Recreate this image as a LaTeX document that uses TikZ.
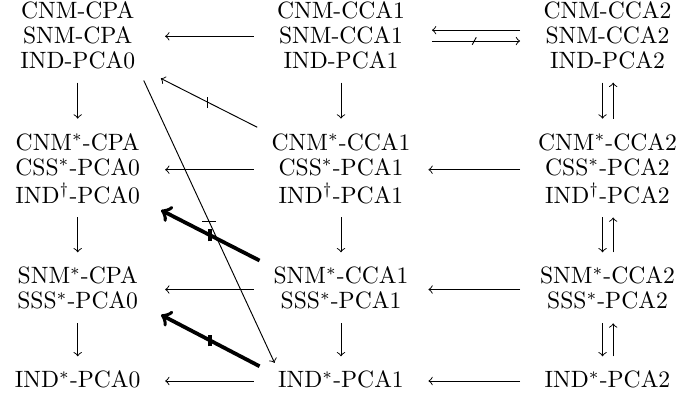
\documentclass[tikz,border=0pt]{standalone}
\newcommand\ls{\rule[-2.3pt]{0pt}{10.5pt}}
\begin{document}
\begin{tikzpicture}[x=0.4237pt,y=-0.4237pt,
  blk/.style={align=center,inner sep=0pt,minimum width=73.7pt,font=\fontsize{10}{10.6}\selectfont},
  dn/.style={->,shorten <=3.6pt,shorten >=5pt},
  upar/.style={->,shorten <=5pt,shorten >=3.6pt},
  hz/.style={->},
  thk/.style={->,line width=1.6pt},
  tick/.style={line width=0.4pt},
  thktick/.style={line width=1.6pt}]
\useasboundingbox (0,0) rectangle (681,403);
% row 1
\node[blk] (A1) at (77.7,36.3) {\ls CNM-CPA\\\ls SNM-CPA\\\ls IND-PCA0};
\node[blk] (B1) at (341,36.3) {\ls CNM-CCA1\\\ls SNM-CCA1\\\ls IND-PCA1};
\node[blk] (C1) at (607.5,36.3) {\ls CNM-CCA2\\\ls SNM-CCA2\\\ls IND-PCA2};
% row 2
\node[blk] (A2) at (77.7,169.7) {\ls CNM$^*$-CPA\\\ls CSS$^*$-PCA0\\\ls IND$^\dagger$-PCA0};
\node[blk] (B2) at (341,169.7) {\ls CNM$^*$-CCA1\\\ls CSS$^*$-PCA1\\\ls IND$^\dagger$-PCA1};
\node[blk] (C2) at (607.5,169.7) {\ls CNM$^*$-CCA2\\\ls CSS$^*$-PCA2\\\ls IND$^\dagger$-PCA2};
% row 3
\node[blk] (A3) at (77.7,289.5) {\ls SNM$^*$-CPA\\\ls SSS$^*$-PCA0};
\node[blk] (B3) at (341,289.5) {\ls SNM$^*$-CCA1\\\ls SSS$^*$-PCA1};
\node[blk] (C3) at (607.5,289.5) {\ls SNM$^*$-CCA2\\\ls SSS$^*$-PCA2};
% row 4
\node[blk] (A4) at (77.7,381) {\ls IND$^*$-PCA0};
\node[blk] (B4) at (341,381) {\ls IND$^*$-PCA1};
\node[blk] (C4) at (607.5,381) {\ls IND$^*$-PCA2};

% horizontal arrows
\draw[hz] (B1) -- (A1);
\draw[hz] (B2) -- (A2);
\draw[hz] (C2) -- (B2);
\draw[hz] (B3) -- (A3);
\draw[hz] (C3) -- (B3);
\draw[hz] (B4) -- (A4);
\draw[hz] (C4) -- (B4);
\draw[hz,shorten >=1.5pt] ([yshift=2.6pt]C1.west) -- ([yshift=2.6pt]B1.east);
\draw[hz,shorten <=1.5pt] ([yshift=-2pt]B1.east) -- coordinate (m0) ([yshift=-2pt]C1.west);
\draw[tick] ([shift={(-2,3.7)}]m0) -- ([shift={(2,-3.7)}]m0);

% vertical arrows
\draw[dn] (A1) -- (A2);
\draw[dn] (A2) -- (A3);
\draw[dn] (A3) -- (A4);
\draw[dn] (B1) -- (B2);
\draw[dn] (B2) -- (B3);
\draw[dn] (B3) -- (B4);
\draw[dn] ([xshift=-2.1pt]C1.south) -- ([xshift=-2.1pt]C2.north);
\draw[upar] ([xshift=2.4pt]C2.north) -- ([xshift=2.4pt]C1.south);
\draw[dn] ([xshift=-2.1pt]C2.south) -- ([xshift=-2.1pt]C3.north);
\draw[upar] ([xshift=2.4pt]C3.north) -- ([xshift=2.4pt]C2.south);
\draw[dn] ([xshift=-2.1pt]C3.south) -- ([xshift=-2.1pt]C4.north);
\draw[upar] ([xshift=2.4pt]C4.north) -- ([xshift=2.4pt]C3.south);

% diagonals
\draw[->,shorten <=3pt,shorten >=4pt] (B2) -- coordinate (m1) (A1);
\draw[tick] ([yshift=-2.45pt]m1) -- ([yshift=2.45pt]m1);
\draw[->] ([shift={(-21.4,6.3)}]A1.south east) -- coordinate (m2) ([shift={(21,-5.3)}]B4.north west);
\draw[tick] ([xshift=-3pt]m2) -- ([xshift=3pt]m2);
\draw[thk] ([shift={(6,-3.6)}]B3.north west) -- coordinate (m3) ([shift={(-4,1.2)}]A2.south east);
\draw[thktick] ([yshift=-2.5pt]m3) -- ([yshift=2.5pt]m3);
\draw[thk] ([shift={(6,-1.9)}]B4.north west) -- coordinate (m4) ([shift={(-4,0)}]A3.south east);
\draw[thktick] ([yshift=-2.5pt]m4) -- ([yshift=2.5pt]m4);
\end{tikzpicture}
\end{document}
